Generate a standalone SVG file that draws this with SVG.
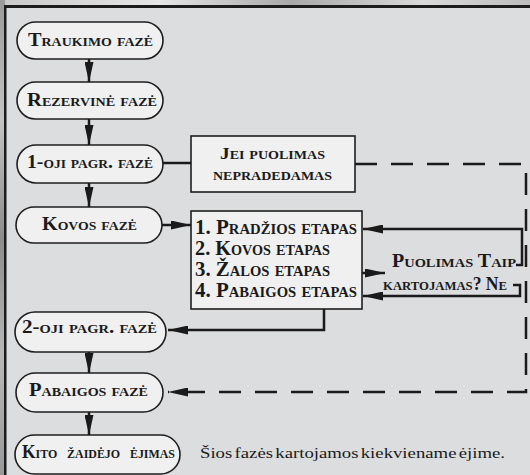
<svg xmlns="http://www.w3.org/2000/svg" width="530" height="475" viewBox="0 0 530 475">
  <style>
    .node rect { fill: #f0f0f0; stroke: #1e1e1e; stroke-width: 1.6; }
    .box { fill: #f0f0f0; stroke: #1e1e1e; stroke-width: 1.6; }
    .lbl { font-family: "Liberation Serif", "Times New Roman", serif; font-weight: bold; font-variant: small-caps; fill: #1a1a1a; }
    .wire { fill: none; stroke: #1a1a1a; stroke-width: 2.5; }
    .dash { fill: none; stroke: #1a1a1a; stroke-width: 2.5; stroke-dasharray: 22 14; }
    .note { font-family: "Liberation Serif", "Times New Roman", serif; font-size: 15.5px; word-spacing: -2px; fill: #1a1a1a; }
  </style>
  <defs>
    <marker id="head" markerUnits="userSpaceOnUse" viewBox="0 0 20 9" markerWidth="20" markerHeight="9" refX="20" refY="4.5" orient="auto">
      <path d="M0,0 L20,4.5 L0,9 Z" fill="#1a1a1a"/>
    </marker>
    <linearGradient id="stone" x1="0" y1="0" x2="1" y2="0">
      <stop offset="0" stop-color="#c9c9c9"/>
      <stop offset="0.3" stop-color="#e6e6e6"/>
      <stop offset="0.55" stop-color="#a9a9a9"/>
      <stop offset="0.8" stop-color="#dadada"/>
      <stop offset="1" stop-color="#bdbdbd"/>
    </linearGradient>
    <linearGradient id="stoneV" x1="0" y1="0" x2="0" y2="1">
      <stop offset="0" stop-color="#9a9a9a"/>
      <stop offset="0.25" stop-color="#c4c4c4"/>
      <stop offset="0.5" stop-color="#8c8c8c"/>
      <stop offset="0.75" stop-color="#b8b8b8"/>
      <stop offset="1" stop-color="#999"/>
    </linearGradient>
  </defs>

  <!-- stone frame and panel -->
  <rect x="0" y="0" width="530" height="6" fill="url(#stone)"/>
  <rect x="0" y="0" width="5" height="475" fill="url(#stoneV)"/>
  <rect x="5" y="6" width="525" height="469" fill="#dcdddf"/>
  <rect x="4" y="5" width="526" height="3" fill="#1c1c1c"/>
  <rect x="4" y="5" width="2.5" height="470" fill="#1c1c1c"/>

  <!-- connectors -->
  <g id="connectors">
    <line class="wire" x1="89" y1="59" x2="89" y2="82" marker-end="url(#head)"/>
    <line class="wire" x1="89" y1="119" x2="89" y2="145" marker-end="url(#head)"/>
    <line class="wire" x1="89" y1="183" x2="89" y2="207" marker-end="url(#head)"/>
    <line class="wire" x1="89" y1="352" x2="89" y2="373" marker-end="url(#head)"/>
    <line class="wire" x1="89" y1="412" x2="89" y2="435" marker-end="url(#head)"/>
    <line class="wire" x1="163" y1="163" x2="191" y2="163"/>
    <line class="wire" x1="158" y1="225" x2="191" y2="225" marker-end="url(#head)"/>
    <path class="wire" d="M324,309 V330 H168" marker-end="url(#head)"/>
    <path class="wire" d="M362,273 H385" marker-end="url(#head)"/>
    <path class="wire" d="M516,265 H522 V229 H363" marker-end="url(#head)"/>
    <path class="wire" d="M513,285 H520 V296 H363" marker-end="url(#head)"/>
    <path class="dash" d="M355,164 H526 V392 H168" marker-end="url(#head)"/>
  </g>

  <g id="traukimo" class="node">
    <rect x="17" y="22" width="146" height="37" rx="18.5"/>
    <text class="lbl" x="28" y="46" font-size="19" textLength="125" lengthAdjust="spacingAndGlyphs">Traukimo fazė</text>
  </g>
  <g id="rezervine" class="node">
    <rect x="17" y="82" width="146" height="37" rx="18.5"/>
    <text class="lbl" x="27" y="106" font-size="19" textLength="130" lengthAdjust="spacingAndGlyphs">Rezervinė fazė</text>
  </g>
  <g id="pagr1" class="node">
    <rect x="17" y="145" width="146" height="38" rx="19"/>
    <text class="lbl" x="27" y="168" font-size="19" textLength="126" lengthAdjust="spacingAndGlyphs">1-oji pagr. fazė</text>
  </g>
  <g id="kovos" class="node">
    <rect x="16" y="207" width="146" height="36" rx="18"/>
    <text class="lbl" x="42" y="230" font-size="19" textLength="95" lengthAdjust="spacingAndGlyphs">Kovos fazė</text>
  </g>
  <g id="pagr2" class="node">
    <rect x="15" y="312" width="151" height="40" rx="20"/>
    <text class="lbl" x="22" y="333" font-size="19" textLength="135" lengthAdjust="spacingAndGlyphs">2-oji pagr. fazė</text>
  </g>
  <g id="pabaigos" class="node">
    <rect x="16" y="373" width="147" height="39" rx="19.5"/>
    <text class="lbl" x="29" y="396" font-size="19" textLength="119" lengthAdjust="spacingAndGlyphs">Pabaigos fazė</text>
  </g>
  <g id="kito" class="node">
    <rect x="15" y="435" width="165" height="39" rx="19.5"/>
    <text class="lbl" x="22" y="458" font-size="19" word-spacing="6" textLength="153" lengthAdjust="spacingAndGlyphs">Kito žaidėjo ėjimas</text>
  </g>

  <g id="nepradedamas">
    <rect class="box" x="191" y="136" width="164" height="56"/>
    <text class="lbl" x="220" y="159" font-size="16.5" textLength="105" lengthAdjust="spacingAndGlyphs">Jei puolimas</text>
    <text class="lbl" x="213" y="180" font-size="16.5" textLength="119" lengthAdjust="spacingAndGlyphs">nepradedamas</text>
  </g>

  <g id="etapai">
    <rect class="box" x="191" y="211" width="171" height="98"/>
    <text class="lbl" x="195" y="234" font-size="20" textLength="162" lengthAdjust="spacingAndGlyphs">1. Pradžios etapas</text>
    <text class="lbl" x="195" y="255" font-size="20" textLength="135" lengthAdjust="spacingAndGlyphs">2. Kovos etapas</text>
    <text class="lbl" x="195" y="276" font-size="20" textLength="135" lengthAdjust="spacingAndGlyphs">3. Žalos etapas</text>
    <text class="lbl" x="195" y="297" font-size="20" textLength="162" lengthAdjust="spacingAndGlyphs">4. Pabaigos etapas</text>
  </g>

  <g id="klausimas">
    <text class="lbl" x="392" y="267" font-size="18" textLength="124" lengthAdjust="spacingAndGlyphs">Puolimas Taip</text>
    <text class="lbl" x="383" y="290" font-size="18" textLength="124" lengthAdjust="spacingAndGlyphs">kartojamas? Ne</text>
  </g>

  <text class="note" x="200" y="458" textLength="305" lengthAdjust="spacingAndGlyphs">Šios fazės kartojamos kiekviename ėjime.</text>
</svg>
